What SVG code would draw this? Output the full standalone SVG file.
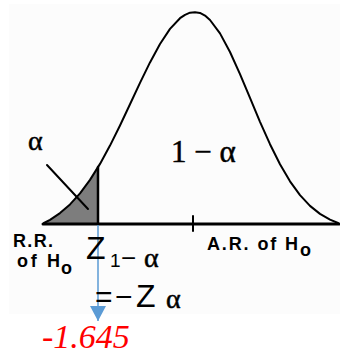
<svg xmlns="http://www.w3.org/2000/svg" width="340" height="356" viewBox="0 0 340 356">
<style>
.ln{stroke:#000;fill:none;stroke-linecap:round;stroke-linejoin:round}
.sans{font-family:"Liberation Sans",Arial,sans-serif;fill:#000}
.b{font-weight:bold;font-size:18px}
.ser{font-family:"Liberation Serif","Times New Roman",serif;fill:#000;stroke:#000;stroke-width:0.5}
</style>
<defs>
<marker id="ah" markerUnits="userSpaceOnUse" markerWidth="16" markerHeight="16" refX="15" refY="8" orient="auto" viewBox="0 0 16 16">
<path d="M0,0 L15,8 L0,16 Z" fill="#5b9bd5"/>
</marker>
</defs>
<rect width="340" height="356" fill="#fff"/>
<rect x="9" y="4" width="331" height="310" fill="#fcfcfc"/>
<g id="shade">
<path d="M44,224 L50,219.8 L60,213.1 L70,204.4 L80,193.4 L90,179.9 L98,167.3 L98,224 Z" fill="#7d7d7d"/>
</g>
<g id="curve">
<path class="ln" stroke-width="2" d="M44,223 L50,219.8 L60,213.1 L70,204.4 L80,193.4 L90,179.9 L100,163.9 L110,145.6 L120,125.5 L130,104.3 L140,82.8 L150,62.4 L160,44 L170,28.9 L180,18.2 L185,14.8 L190,12.7 L195,12.3 L200,12.9 L205,15.6 L210,20 L220,33.4 L230,52 L240,74.1 L250,97.9 L260,121.8 L270,144.2 L280,164.3 L290,181.3 L300,195.1 L310,205.9 L320,213.9 L330,219.7 L338,223"/>
</g>
<g id="axis">
<line class="ln" x1="43" y1="224" x2="339" y2="224" stroke-width="3"/>
<line class="ln" x1="193" y1="216" x2="193" y2="231" stroke-width="2"/>
<line class="ln" x1="98" y1="167" x2="98" y2="224" stroke-width="2.5"/>
<line class="ln" x1="47" y1="165" x2="88" y2="209" stroke-width="2"/>
</g>
<g id="connectors">
<line x1="98" y1="225" x2="98" y2="321" stroke="#5b9bd5" stroke-width="1.5" marker-end="url(#ah)"/>
</g>
<g id="label-alpha"><text class="ser" x="28" y="150" font-size="28">α</text></g>
<g id="label-1-alpha"><text class="ser" x="171" y="162" font-size="31">1 − α</text></g>
<g id="label-AR">
<text class="sans b" x="207" y="250" textLength="91" lengthAdjust="spacing">A.R. of H</text>
<text class="sans b" x="300" y="256">o</text>
</g>
<g id="label-RR">
<text class="sans b" x="13" y="247" textLength="40" lengthAdjust="spacing">R.R.</text>
<text class="sans b" x="17" y="267" textLength="43" lengthAdjust="spacing">of H</text>
<text class="sans b" x="61" y="274">o</text>
</g>
<g id="label-z">
<text class="sans" x="86" y="259" font-size="32">Z</text>
<text class="sans" x="110" y="267" font-size="19">1</text>
<text class="sans" x="121" y="267" font-size="26">−</text>
<text class="ser" x="144" y="267" font-size="28">α</text>
<text class="sans" x="95" y="307" font-size="30">=</text>
<text class="sans" x="115" y="307" font-size="30">−</text>
<text class="sans" x="136" y="307" font-size="32">Z</text>
<text class="ser" x="166" y="308" font-size="28">α</text>
</g>
<g id="label-value">
<text x="42" y="348" font-family="'Liberation Serif','Times New Roman',serif" font-style="italic" font-size="34" fill="#ff0000">-1.645</text>
</g>
</svg>
